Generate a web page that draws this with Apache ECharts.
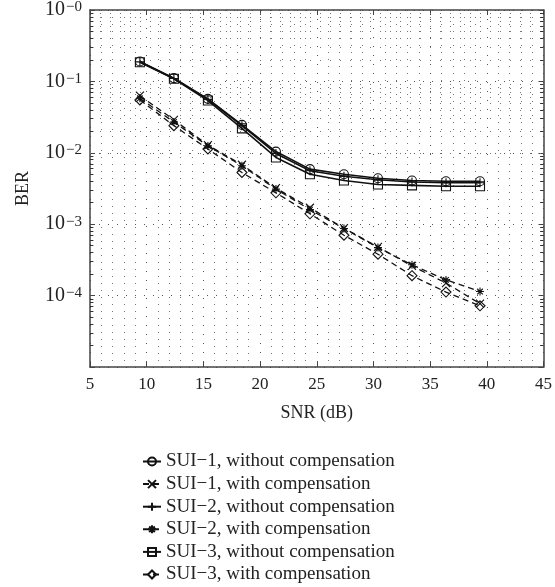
<!DOCTYPE html>
<html>
<head>
<meta charset="utf-8">
<script src="https://cdn.jsdelivr.net/npm/echarts@6/dist/echarts.min.js"></script>
<style>html,body{margin:0;padding:0;background:#fff}#c{width:555px;height:587px}</style>
</head>
<body>
<div id="c"></div>
<script>
const snr = [9.4, 12.4, 15.4, 18.4, 21.4, 24.4, 27.4, 30.4, 33.4, 36.4, 39.4];
const sui1Without = [0.19, 0.111, 0.057, 0.0246, 0.0104, 0.0059, 0.0050, 0.0044, 0.0041, 0.0040, 0.0040];
const sui1With = [0.063, 0.029, 0.0128, 0.0068, 0.0032, 0.0017, 0.00088, 0.00048, 0.00026, 0.00015, 0.000077];
const sui2Without = [0.188, 0.110, 0.056, 0.0240, 0.0098, 0.0056, 0.0047, 0.0042, 0.0039, 0.0038, 0.0038];
const sui2With = [0.058, 0.027, 0.0125, 0.0066, 0.0031, 0.0016, 0.00087, 0.00047, 0.00027, 0.000166, 0.000114];
const sui3Without = [0.185, 0.109, 0.054, 0.022, 0.0086, 0.0050, 0.0041, 0.0036, 0.0035, 0.0034, 0.0034];
const sui3With = [0.055, 0.024, 0.0113, 0.0053, 0.00275, 0.0014, 0.0007, 0.00038, 0.00019, 0.000112, 0.000072];
const seriesNames = ['SUI\u22121, without compensation','SUI\u22121, with compensation','SUI\u22122, without compensation','SUI\u22122, with compensation','SUI\u22123, without compensation','SUI\u22123, with compensation'];
const xTicks = [5, 10, 15, 20, 25, 30, 35, 40, 45];
const yExponents = [0, -1, -2, -3, -4];

const FONT = '"Liberation Serif", "DejaVu Serif", serif';
const pair = (ys) => snr.map((x, i) => [x, ys[i]]);

// minor log grid values 2..9 x 10^k
const minorVals = [];
for (let k = -5; k <= -1; k++) for (let m = 2; m <= 9; m++) minorVals.push(m * Math.pow(10, k));

const SYM = {
  x: 'path://M0,0 L10,10 M10,0 L0,10',
  plus: 'path://M5,0 L5,10 M0,5 L10,5',
  star: 'path://M5,0 L5,10 M0,5 L10,5 M1.5,1.5 L8.5,8.5 M8.5,1.5 L1.5,8.5'
};

function mkSeries(name, ys, symbol, dashed, size) {
  return {
    name, type: 'line', data: pair(ys), symbol, symbolSize: size || 8,
    showAllSymbol: true,
    lineStyle: { color: '#111', width: dashed ? 1.3 : 1.6, type: dashed ? [6, 4] : 'solid' },
    itemStyle: { color: 'rgba(0,0,0,0)', borderColor: '#111', borderWidth: 1.1 },
    emphasis: { disabled: true }, z: 5
  };
}

const series = [
  mkSeries(seriesNames[0], sui1Without, 'circle', false, 9),
  mkSeries(seriesNames[1], sui1With, SYM.x, true, 8),
  mkSeries(seriesNames[2], sui2Without, SYM.plus, false, 9),
  mkSeries(seriesNames[3], sui2With, SYM.star, true, 8),
  mkSeries(seriesNames[4], sui3Without, 'rect', false, 9),
  mkSeries(seriesNames[5], sui3With, 'diamond', true, 10)
];

// grid helper series (dotted minor horizontal grid + minor ticks)
const mlData = [];
minorVals.forEach(v => {
  mlData.push({ yAxis: v, lineStyle: { type: [1, 9], color: '#777', width: 1 } });
  mlData.push([{ coord: [5, v], lineStyle: { type: 'solid', color: '#333', width: 1 } }, { coord: [5.3, v] }]);
  mlData.push([{ coord: [44.7, v], lineStyle: { type: 'solid', color: '#333', width: 1 } }, { coord: [45, v] }]);
});
series.push({
  type: 'line', data: [], silent: true, z: 1,
  markLine: { silent: true, symbol: 'none', label: { show: false }, animation: false, data: mlData }
});

const chart = echarts.init(document.getElementById('c'), null, { renderer: 'canvas' });
const yLabelFmt = (v) => {
  const e = Math.round(Math.log10(v));
  if (yExponents.indexOf(e) < 0) return '';
  return '{b|10}{s|\u2212' + (-e) + '}';
};
chart.setOption({
  animation: false,
  backgroundColor: '#fff',
  grid: { left: 90, right: 10, top: 10, bottom: 220 },
  legend: {
    orient: 'vertical', left: 142, top: 452, padding: 0,
    itemWidth: 18, itemHeight: 10, itemGap: 3.6,
    textStyle: { fontFamily: FONT, fontSize: 19, color: '#222', lineHeight: 19 },
    data: seriesNames
  },
  xAxis: [{
    type: 'value', min: 5, max: 45, interval: 5, position: 'bottom',
    name: 'SNR (dB)', nameLocation: 'middle', nameGap: 37,
    nameTextStyle: { fontFamily: FONT, fontSize: 18, color: '#222' },
    axisLine: { show: true, lineStyle: { color: '#444', width: 1.5 } },
    axisTick: { show: true, inside: true, length: 5, lineStyle: { color: '#444' } },
    minorTick: { show: false, splitNumber: 5 },
    minorSplitLine: { show: true, lineStyle: { type: [1, 6], color: '#777', width: 1 } },
    splitLine: { show: true, lineStyle: { type: [1, 8], color: '#555', width: 1 } },
    axisLabel: { fontFamily: FONT, fontSize: 17, color: '#222', margin: 9,
      formatter: (v) => xTicks.indexOf(v) >= 0 ? String(v) : '' }
  }, {
    type: 'value', min: 5, max: 45, interval: 5, position: 'top',
    axisLine: { show: true, lineStyle: { color: '#444', width: 1.5 } },
    axisTick: { show: true, inside: true, length: 5, lineStyle: { color: '#444' } },
    axisLabel: { show: false }, splitLine: { show: false }
  }],
  yAxis: [{
    type: 'log', logBase: 10, min: 1e-5, max: 1, splitNumber: 5, position: 'left',
    name: 'BER', nameLocation: 'middle', nameGap: 58, nameRotate: 90,
    nameTextStyle: { fontFamily: FONT, fontSize: 18, color: '#222' },
    axisLine: { show: true, lineStyle: { color: '#444', width: 1.5 } },
    axisTick: { show: true, inside: true, length: 5, lineStyle: { color: '#444' } },
    splitLine: { show: true, lineStyle: { type: [1, 8], color: '#555', width: 1 } },
    axisLabel: {
      margin: 8, formatter: yLabelFmt,
      rich: {
        b: { fontFamily: FONT, fontSize: 20, color: '#222', verticalAlign: 'bottom', lineHeight: 20 },
        s: { fontFamily: FONT, fontSize: 15, color: '#222', verticalAlign: 'top', padding: [0, 0, 11, 1], lineHeight: 15 }
      }
    }
  }, {
    type: 'log', logBase: 10, min: 1e-5, max: 1, splitNumber: 5, position: 'right',
    axisLine: { show: true, lineStyle: { color: '#444', width: 1.5 } },
    axisTick: { show: true, inside: true, length: 5, lineStyle: { color: '#444' } },
    axisLabel: { show: false }, splitLine: { show: false }
  }],
  series
});
</script>
</body>
</html>
